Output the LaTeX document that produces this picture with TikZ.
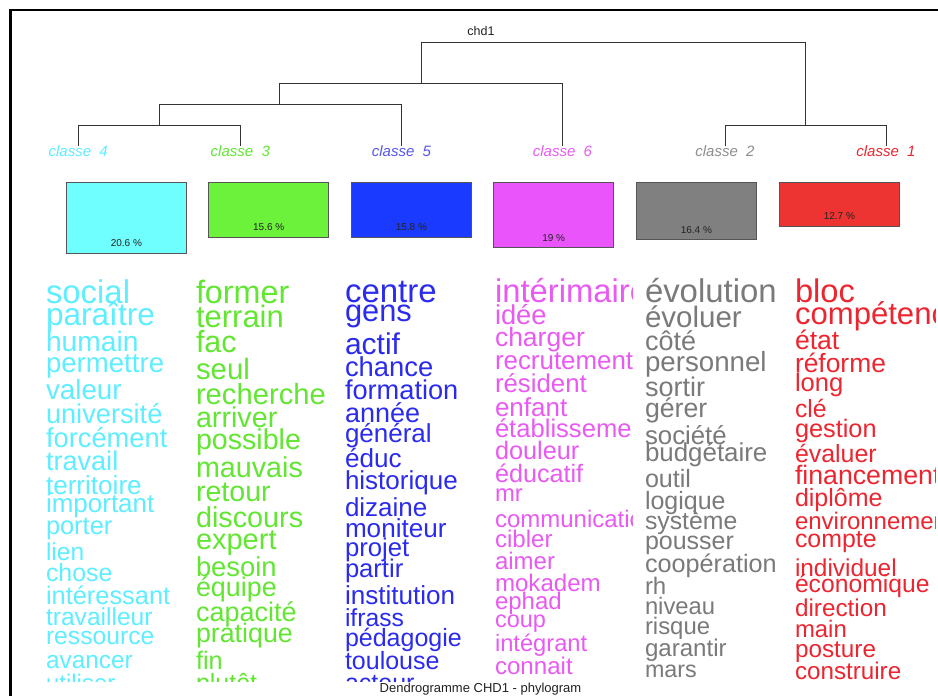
\documentclass[tikz,border=0pt]{standalone}
\usepackage{fontspec}
\setmainfont{Liberation Sans}
\definecolor{ccyan}{HTML}{5EEEFF}
\definecolor{cgreen}{HTML}{62E632}
\definecolor{cblue}{HTML}{2B2BEE}
\definecolor{cpink}{HTML}{E85AF2}
\definecolor{cgray}{HTML}{7A7A7A}
\definecolor{cred}{HTML}{EC2630}
\definecolor{bcyan}{HTML}{70FFFF}
\definecolor{bgreen}{HTML}{6CF23A}
\definecolor{bblue}{HTML}{1A3AFF}
\definecolor{bpink}{HTML}{E955FA}
\definecolor{bgray}{HTML}{808080}
\definecolor{bred}{HTML}{EE3333}
\definecolor{dline}{HTML}{333333}
\definecolor{boxline}{HTML}{555555}
\definecolor{darktext}{HTML}{222222}
\begin{document}
\begin{tikzpicture}[x=1pt,y=-1pt,
  word/.style={anchor=base west, inner sep=0pt, outer sep=0pt},
  dendro/.style={draw=dline, line width=1pt},
  lab/.style={anchor=north, inner sep=0pt, outer sep=0pt, font=\fontsize{15}{15}\selectfont\itshape},
  clbox/.style={draw=boxline, line width=0.8pt, minimum width=120pt, anchor=north west, inner sep=0pt},
  pct/.style={inner sep=0pt, text=darktext, font=\fontsize{10}{10}\selectfont},
  frameline/.style={draw=black, line width=2.5pt}]
\useasboundingbox (0,0) rectangle (938,696);
\fill[white] (0,0) rectangle (938,696);
% frame
\draw[frameline] (10.5,696) -- (10.5,10) -- (938,10);
% title
\node[anchor=base, inner sep=0pt, text=darktext, font=\fontsize{12.5}{12.5}\selectfont] (title) at (481,35) {chd1};
% class labels
\node[lab, text=ccyan] (lab4) at (78.2,146) {classe\ \ 4};
\node[lab, text=cgreen] (lab3) at (240.3,146) {classe\ \ 3};
\node[lab, text=cblue!80!white] (lab5) at (401.5,146) {classe\ \ 5};
\node[lab, text=cpink] (lab6) at (562.5,146) {classe\ \ 6};
\node[lab, text=cgray!85!white] (lab2) at (725,146) {classe\ \ 2};
\node[lab, text=cred] (lab1) at (886,146) {classe\ \ 1};
% merge points
\coordinate (n43) at (159.3,125.3);
\coordinate (n435) at (279.8,104.3);
\coordinate (n4356) at (421.7,83.3);
\coordinate (n21) at (805,125.3);
\coordinate (rootL) at (421.7,42.7);
\coordinate (rootR) at (805,42.7);
% dendrogram
\draw[dendro] (lab4.north) |- (n43) -| (lab3.north);
\draw[dendro] (n43) |- (n435) -| (lab5.north);
\draw[dendro] (n435) |- (n4356) -| (lab6.north);
\draw[dendro] (lab2.north) |- (n21) -| (lab1.north);
\draw[dendro] (n4356) -- (rootL) -- (rootR) -- (n21);
% boxes
\node[clbox, fill=bcyan, minimum height=70.4pt] (box4) at (66,182.3) {};
\node[clbox, fill=bgreen, minimum height=54.4pt] (box3) at (208.3,182.3) {};
\node[clbox, fill=bblue, minimum height=54.4pt] (box5) at (351,182.3) {};
\node[clbox, fill=bpink, minimum height=65pt] (box6) at (493.3,182.3) {};
\node[clbox, fill=bgray, minimum height=56.7pt] (box2) at (636,182.3) {};
\node[clbox, fill=bred, minimum height=43.4pt] (box1) at (779,182.3) {};
\node[pct] (p4) at ([yshift=10pt]box4.south) {20.6 \%};
\node[pct] (p3) at ([yshift=10pt]box3.south) {15.6 \%};
\node[pct] (p5) at ([yshift=10pt]box5.south) {15.8 \%};
\node[pct] (p6) at ([yshift=10pt]box6.south) {19 \%};
\node[pct] (p2) at ([yshift=10pt]box2.south) {16.4 \%};
\node[pct] (p1) at ([yshift=10pt]box1.south) {12.7 \%};
% word columns
\begin{scope}
\clip (40,270) rectangle (190,681);
\foreach \w/\s/\b [count=\i] in {social/32.9/303, paraître/31.6/325.5, humain/28.2/351, permettre/27.6/372.5, valeur/27.8/399, université/27.2/423, forcément/27.3/447, travail/27.1/470, territoire/26.1/494, important/26/512.5, porter/25.4/534, lien/24.6/560, chose/24.9/581.5, intéressant/25.4/604, travailleur/24.6/625, ressource/24.7/644, avancer/24.4/668, utiliser/24/691}
  \node[word, text=ccyan, font={\fontsize{\s}{\s}\selectfont}] (wcyan\i) at (46,\b) {\w};
\end{scope}
\begin{scope}
\clip (190,270) rectangle (340,681);
\foreach \w/\s/\b [count=\i] in {former/32.3/303.5, terrain/31/327.5, fac/30.5/352.5, seul/29.4/379, recherche/29.2/404, arriver/28.7/427.5, possible/28.6/449, mauvais/28.7/477.5, retour/28.6/501, discours/28.8/527.5, expert/29/549, besoin/27.4/576, équipe/26.9/596, capacité/27/621, pratique/26.8/642.5, fin/25.3/669, plutôt/25/691}
  \node[word, text=cgreen, font={\fontsize{\s}{\s}\selectfont}] (wgreen\i) at (196,\b) {\w};
\end{scope}
\begin{scope}
\clip (340,270) rectangle (490,681);
\foreach \w/\s/\b [count=\i] in {centre/33/302.5, gens/30.8/321, actif/30/354, chance/27.4/376, formation/27.2/399, année/27/422.5, général/26/442.5, éduc/26.1/467.5, historique/26/489, dizaine/26/516, moniteur/26.1/537.5, projet/25.7/556, partir/25.6/577.5, institution/26.1/604, ifrass/24.7/626, pédagogie/25/646, toulouse/25/669, acteur/25/691}
  \node[word, text=cblue, font={\fontsize{\s}{\s}\selectfont}] (wblue\i) at (345,\b) {\w};
\end{scope}
\begin{scope}
\clip (490,270) rectangle (632,681);
\foreach \w/\s/\b [count=\i] in {intérimaire/32.8/302.5, idée/27.3/324, charger/26.5/346, recrutement/25.9/369, résident/25.8/392.5, enfant/26/416, établissement/25.6/437.5, douleur/25.3/459, éducatif/25.2/482.5, mr/23.8/501, communication/24/527.5, cibler/24.1/547.5, aimer/24/569, mokadem/24.1/591, ephad/24/609, coup/23.5/627.5, intégrant/23.7/651, connait/24.1/674}
  \node[word, text=cpink, font={\fontsize{\s}{\s}\selectfont}] (wpink\i) at (495,\b) {\w};
\end{scope}
\begin{scope}
\clip (640,270) rectangle (790,681);
\foreach \w/\s/\b [count=\i] in {évolution/32.9/302.5, évoluer/29.5/327.5, côté/27/350, personnel/27.7/371, sortir/27/396, gérer/26.7/417.5, société/25.8/444, budgétaire/25.9/461, outil/25.1/487.5, logique/25/509, système/24.8/529, pousser/25/549, coopération/25.2/572.5, rh/24/594, niveau/23.8/614, risque/23.9/634, garantir/24.1/656, mars/23.3/677.5}
  \node[word, text=cgray, font={\fontsize{\s}{\s}\selectfont}] (wgray\i) at (645,\b) {\w};
\end{scope}
\begin{scope}
\clip (790,270) rectangle (935,681);
\foreach \w/\s/\b [count=\i] in {bloc/32.7/302.5, compétence/31.1/324, état/26.6/349, réforme/26.4/372.5, long/25.6/391, clé/24.8/417.5, gestion/25.3/437.5, évaluer/24.9/462.5, financement/26.7/484, diplôme/25/506, environnement/24/529, compte/24.9/547.5, individuel/24.4/576, économique/24.7/592.5, direction/24.3/616, main/23.9/637.5, posture/24.3/657.5, construire/24.2/679}
  \node[word, text=cred, font={\fontsize{\s}{\s}\selectfont}] (wred\i) at (795,\b) {\w};
\end{scope}
% caption
\node[anchor=base, inner sep=0pt, text=darktext, font=\fontsize{13}{13}\selectfont] (caption) at (480.5,692.5) {Dendrogramme CHD1 - phylogram};
\end{tikzpicture}
\end{document}
